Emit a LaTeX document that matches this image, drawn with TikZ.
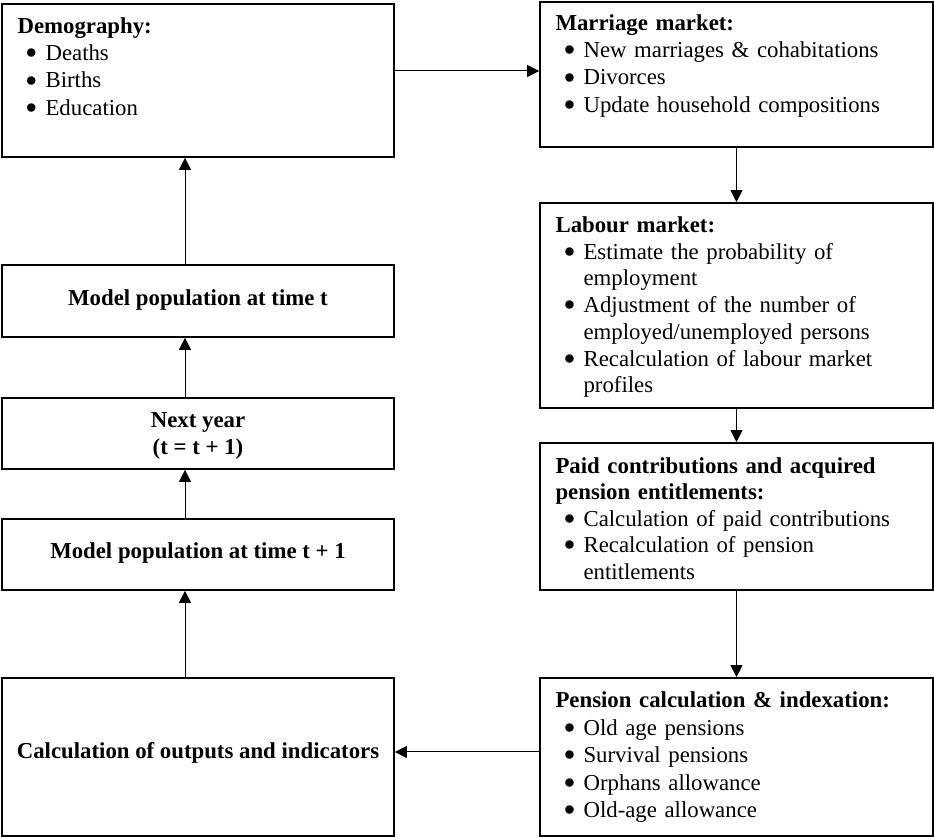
\documentclass[tikz,border=0pt]{standalone}
\usepackage{fontspec}
\setmainfont{Liberation Serif}
\usetikzlibrary{arrows.meta,calc}
\tikzset{
 box/.style={draw=black, line width=0.85pt, rectangle, inner sep=0pt},
 lbox/.style={box, minimum width=196pt},
 rbox/.style={box, minimum width=196.5pt},
 arr/.style={line width=0.5pt, -{Triangle[length=6pt,width=6pt]}},
 listtxt/.style={anchor=north west, inner sep=0pt, text width=188pt, align=left, font=\fontsize{11.4}{13.6}\selectfont},
 ctxt/.style={inner sep=0pt, align=center, font=\fontsize{11.4}{13.5}\selectfont\bfseries},
}
\newcommand\ttl[1]{\noindent\rule{0pt}{10pt}\textbf{#1}}
\newcommand\bl[1]{\par\hangindent=14pt\hangafter=1\noindent\hspace*{14pt}\llap{\raisebox{0.9pt}{$\bullet$}\hspace{4.3pt}}#1\par}
\begin{document}
\begin{tikzpicture}[x=0.5pt,y=-0.5pt]
\useasboundingbox (0,0) rectangle (934,838);
% left column boxes
\node[lbox, minimum height=76.5pt] (demo) at (198,80.5) {};
\node[lbox, minimum height=36pt] (modt) at (198,301) {};
\node[lbox, minimum height=35.5pt] (next) at (198,433.5) {};
\node[lbox, minimum height=35.5pt] (modt1) at (198,554.5) {};
\node[lbox, minimum height=79pt] (calc) at (198,757) {};
% right column boxes
\node[rbox, minimum height=72.5pt] (marr) at (736.5,74.5) {};
\node[rbox, minimum height=102.5pt] (lab) at (736.5,305.5) {};
\node[rbox, minimum height=73.5pt] (paid) at (736.5,516.5) {};
\node[rbox, minimum height=79pt] (pens) at (736.5,757) {};
% texts
\node[listtxt] (demotxt) at ($(demo.north west)+(16,10)$) {\ttl{Demography:}
 \bl{Deaths}
 \bl{Births}
 \bl{Education}};
\node[listtxt] (marrtxt) at ($(marr.north west)+(16,9)$) {\ttl{Marriage market:}
 \bl{New marriages \& cohabitations}
 \bl{Divorces}
 \bl{Update household compositions}};
\node[listtxt, font=\fontsize{11.4}{13.35}\selectfont] (labtxt) at ($(lab.north west)+(16,10)$) {\ttl{Labour market:}
 \bl{Estimate the probability of\newline employment}
 \bl{Adjustment of the number of\newline employed/unemployed persons}
 \bl{Recalculation of labour market\newline profiles}};
\node[listtxt, font=\fontsize{11.4}{13.2}\selectfont] (paidtxt) at ($(paid.north west)+(16,11)$) {\ttl{Paid contributions and acquired\newline pension entitlements:}
 \bl{Calculation of paid contributions}
 \bl{Recalculation of pension\newline entitlements}};
\node[listtxt, font=\fontsize{11.4}{13.75}\selectfont] (penstxt) at ($(pens.north west)+(16,10)$) {\ttl{Pension calculation \& indexation:}
 \bl{Old age pensions}
 \bl{Survival pensions}
 \bl{Orphans allowance}
 \bl{Old-age allowance}};
\node[ctxt] (modttxt) at (198,300) {Model population at time t};
\node[ctxt] (nexttxt) at (198,436) {Next year\\(t = t + 1)};
\node[ctxt] (modt1txt) at (198,553) {Model population at time t + 1};
\node[ctxt] (calctxt) at (198,753) {Calculation of outputs and indicators};
% connectors
\coordinate (ya) at (0,71);
\coordinate (yb) at (0,752);
\coordinate (xa) at (185,0);
\draw[arr] (demo.east |- ya) -- (marr.west |- ya);
\draw[arr] (marr.south) -- (lab.north);
\draw[arr] (lab.south) -- (paid.north);
\draw[arr] (paid.south) -- (pens.north);
\draw[arr] (pens.west |- yb) -- (calc.east |- yb);
\draw[arr] (calc.north -| xa) -- (modt1.south -| xa);
\draw[arr] (modt1.north -| xa) -- (next.south -| xa);
\draw[arr] (next.north -| xa) -- (modt.south -| xa);
\draw[arr] (modt.north -| xa) -- (demo.south -| xa);
\end{tikzpicture}
\end{document}
